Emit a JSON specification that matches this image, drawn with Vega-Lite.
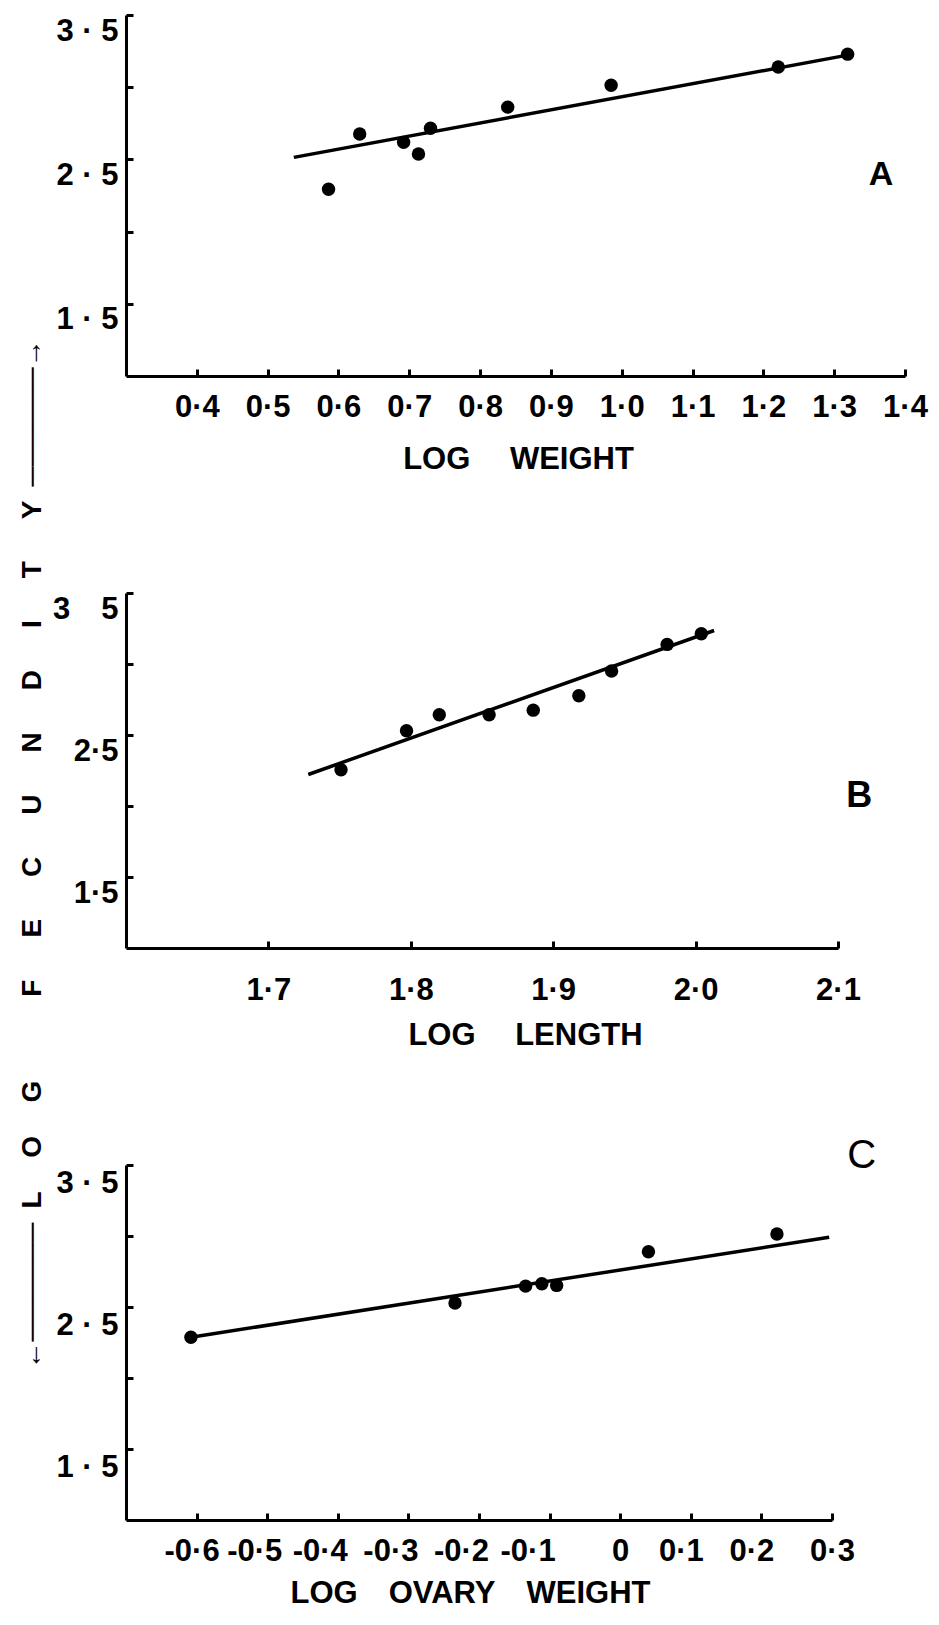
{
  "$schema": "https://vega.github.io/schema/vega-lite/v6.json",
  "background": "white",
  "padding": {"left": 17, "top": 13, "right": 5, "bottom": 5},
  "config": {
    "view": {"stroke": null},
    "axis": {
      "grid": false,
      "domainColor": "black",
      "domainWidth": 3,
      "tickColor": "black",
      "tickWidth": 3,
      "tickSize": -7,
      "labelFont": "Liberation Sans",
      "labelFontWeight": "bold",
      "labelFontSize": 31,
      "labelColor": "black",
      "labelFlush": false,
      "labelOverlap": false,
      "labelBound": false,
      "titleFont": "Liberation Sans",
      "titleFontWeight": "bold",
      "titleFontSize": 31,
      "titleColor": "black"
    }
  },
  "datasets": {
    "pointsA": [
      {"x": 0.586, "y": 2.293}, {"x": 0.630, "y": 2.676}, {"x": 0.692, "y": 2.618},
      {"x": 0.713, "y": 2.537}, {"x": 0.730, "y": 2.716}, {"x": 0.839, "y": 2.862},
      {"x": 0.985, "y": 3.013}, {"x": 1.221, "y": 3.140}, {"x": 1.319, "y": 3.229}
    ],
    "lineA": [{"x": 0.537, "y": 2.514}, {"x": 1.319, "y": 3.222}],
    "labelA": [{"x": 1.366, "y": 2.39, "label": "A"}],
    "pointsB": [
      {"x": 1.751, "y": 2.255}, {"x": 1.797, "y": 2.530}, {"x": 1.820, "y": 2.643},
      {"x": 1.855, "y": 2.643}, {"x": 1.886, "y": 2.675}, {"x": 1.918, "y": 2.776},
      {"x": 1.941, "y": 2.951}, {"x": 1.980, "y": 3.138}, {"x": 2.004, "y": 3.213}
    ],
    "lineB": [{"x": 1.728, "y": 2.222}, {"x": 2.013, "y": 3.236}],
    "labelB": [{"x": 2.115, "y": 2.07, "label": "B"}],
    "pointsC": [
      {"x": -0.608, "y": 2.287}, {"x": -0.234, "y": 2.528}, {"x": -0.134, "y": 2.647},
      {"x": -0.111, "y": 2.664}, {"x": -0.090, "y": 2.652}, {"x": 0.040, "y": 2.889},
      {"x": 0.222, "y": 3.014}
    ],
    "lineC": [{"x": -0.608, "y": 2.287}, {"x": 0.296, "y": 2.991}],
    "labelC": [{"x": 0.342, "y": 3.56, "label": "C"}]
  },
  "spacing": 217,
  "bounds": "flush",
  "vconcat": [
    {
      "width": 779,
      "height": 361,
      "encoding": {
        "x": {
          "field": "x", "type": "quantitative",
          "scale": {"domain": [0.3, 1.4], "nice": false, "zero": false},
          "axis": {
            "title": "LOG\u2003 WEIGHT",
            "values": [0.4, 0.5, 0.6, 0.7, 0.8, 0.9, 1.0, 1.1, 1.2, 1.3, 1.4],
            "labelExpr": "replace(format(datum.value, '.1f'), '.', '\u00b7')",
            "labelPadding": 23,
            "titleX": 392,
            "titleY": 92,
            "titleAlign": "center",
            "titleBaseline": "alphabetic"
          }
        },
        "y": {
          "field": "y", "type": "quantitative",
          "scale": {"domain": [1.0, 3.5], "nice": false, "zero": false},
          "axis": {
            "title": null,
            "values": [1.5, 2, 2.5, 3, 3.5],
            "labelExpr": "datum.value == 2 || datum.value == 3 ? '' : replace(format(datum.value, '.1f'), '.', ' \u00b7 ')",
            "labelBaseline": "top",
            "labelOffset": 1,
            "labelPadding": 15
          }
        }
      },
      "layer": [
        {"data": {"name": "lineA"}, "mark": {"type": "line", "color": "black", "strokeWidth": 3.5}, "encoding": {}},
        {"data": {"name": "pointsA"}, "mark": {"type": "circle", "color": "black", "opacity": 1, "size": 180}},
        {"data": {"name": "labelA"}, "mark": {"type": "text", "font": "Liberation Sans", "fontWeight": "bold", "fontSize": 34, "color": "black", "align": "center", "baseline": "middle"}, "encoding": {"text": {"field": "label"}}}
      ]
    },
    {
      "width": 712,
      "height": 355,
      "encoding": {
        "x": {
          "field": "x", "type": "quantitative",
          "scale": {"domain": [1.6, 2.1], "nice": false, "zero": false},
          "axis": {
            "title": "LOG\u2003 LENGTH",
            "values": [1.7, 1.8, 1.9, 2.0, 2.1],
            "labelExpr": "replace(format(datum.value, '.1f'), '.', '\u00b7')",
            "labelPadding": 34,
            "titleX": 399,
            "titleY": 96,
            "titleAlign": "center",
            "titleBaseline": "alphabetic"
          }
        },
        "y": {
          "field": "y", "type": "quantitative",
          "scale": {"domain": [1.0, 3.5], "nice": false, "zero": false},
          "axis": {
            "title": "\u2190\u2500\u2500\u2500\u2500\u2500\u2500\u2002L\u2003\u2009O\u2003\u2009G\u2003\u2003\u2003F\u2003\u2002E\u2003\u2002C\u2003\u2002U\u2003\u2002N\u2003\u2002D\u2003\u2002I\u2003\u2002T\u2003\u2002Y\u2002\u2500\u2500\u2500\u2500\u2500\u2500\u2192",
            "titleFontSize": 28,
            "titleAngle": 270,
            "titleX": -86,
            "titleY": 261,
            "titleAlign": "center",
            "titleBaseline": "alphabetic",
            "values": [1.5, 2, 2.5, 3, 3.5],
            "labelExpr": "datum.value == 2 || datum.value == 3 ? '' : datum.value == 3.5 ? '3\u2002\u20025' : replace(format(datum.value, '.1f'), '.', '\u00b7')",
            "labelBaseline": "top",
            "labelOffset": 1,
            "labelPadding": 15
          }
        }
      },
      "layer": [
        {"data": {"name": "lineB"}, "mark": {"type": "line", "color": "black", "strokeWidth": 3.5}, "encoding": {}},
        {"data": {"name": "pointsB"}, "mark": {"type": "circle", "color": "black", "opacity": 1, "size": 180}},
        {"data": {"name": "labelB"}, "mark": {"type": "text", "font": "Liberation Sans", "fontWeight": "bold", "fontSize": 36, "color": "black", "align": "center", "baseline": "middle"}, "encoding": {"text": {"field": "label"}}}
      ]
    },
    {
      "width": 706,
      "height": 355,
      "encoding": {
        "x": {
          "field": "x", "type": "quantitative",
          "scale": {"domain": [-0.7, 0.3], "nice": false, "zero": false},
          "axis": {
            "title": "LOG\u2003OVARY\u2003WEIGHT",
            "values": [-0.6, -0.5, -0.4, -0.3, -0.2, -0.1, 0, 0.1, 0.2, 0.3],
            "labelExpr": "datum.value == 0 ? '0' : (datum.value < 0 ? '-' : '') + replace(format(abs(datum.value), '.1f'), '.', '\u00b7')",
            "labelOffset": {"condition": [{"test": "datum.value < -0.55", "value": -5}, {"test": "datum.value < -0.45", "value": -13}, {"test": "datum.value < -0.15", "value": -18}, {"test": "datum.value < -0.05", "value": -22}, {"test": "datum.value > 0.05 && datum.value < 0.25", "value": -10}], "value": 0},
            "labelPadding": 23,
            "titleX": 344,
            "titleY": 82,
            "titleAlign": "center",
            "titleBaseline": "alphabetic"
          }
        },
        "y": {
          "field": "y", "type": "quantitative",
          "scale": {"domain": [1.0, 3.5], "nice": false, "zero": false},
          "axis": {
            "title": null,
            "values": [1.5, 2, 2.5, 3, 3.5],
            "labelExpr": "datum.value == 2 || datum.value == 3 ? '' : replace(format(datum.value, '.1f'), '.', ' \u00b7 ')",
            "labelBaseline": "top",
            "labelOffset": 3,
            "labelPadding": 15
          }
        }
      },
      "layer": [
        {"data": {"name": "lineC"}, "mark": {"type": "line", "color": "black", "strokeWidth": 3.5}, "encoding": {}},
        {"data": {"name": "pointsC"}, "mark": {"type": "circle", "color": "black", "opacity": 1, "size": 180}},
        {"data": {"name": "labelC"}, "mark": {"type": "text", "font": "Liberation Sans", "fontWeight": "normal", "fontSize": 40, "color": "black", "align": "center", "baseline": "middle"}, "encoding": {"text": {"field": "label"}}}
      ]
    }
  ]
}
